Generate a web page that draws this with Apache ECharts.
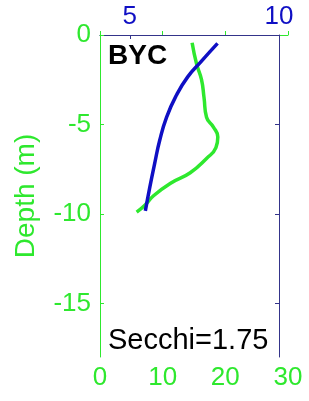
<!DOCTYPE html>
<html>
<head>
<meta charset="utf-8">
<script src="https://cdn.jsdelivr.net/npm/echarts@6/dist/echarts.min.js"></script>
<style>
  html, body { margin: 0; padding: 0; background: #fff; }
  #chart { width: 309px; height: 401px; }
</style>
</head>
<body>
<div id="chart"></div>
<script>
// green profile (bottom axis, 0-30)
const greenDepth = [-0.43, -1.6, -2.5, -3.5, -4.6, -5.15, -5.7, -6.3, -6.9, -7.7, -8.3, -9.0, -9.5, -9.9];
const greenVal = [14.7, 15.4, 16.2, 16.6, 17.0, 18.1, 18.8, 18.5, 17.0, 14.4, 11.2, 8.5, 7.2, 5.85];
// blue profile (top axis, 4-10)
const blueDepth = [-0.47, -1.5, -2.34, -3.37, -4.6, -5.9, -7.2, -8.5, -9.83];
const blueVal = [7.94, 7.38, 6.94, 6.56, 6.23, 6.0, 5.83, 5.67, 5.52];
const depthTicks = [0, -5, -10, -15];
const topTicks = [5, 10];

const GREEN = '#2ee82e';
const BLUE = '#0f0fc4';
const BOX = '#34348a';
const font = 'Liberation Sans, Arial, sans-serif';

const myChart = echarts.init(document.getElementById('chart'));
myChart.setOption({
    animation: false,
    title: [
        {text: 'BYC', left: 103, top: 37, textStyle: {fontSize: 28, fontWeight: 'bold', color: '#000', fontFamily: font}},
        {text: 'Secchi=1.75', left: 103, top: 321, textStyle: {fontSize: 29, fontWeight: 'normal', color: '#000', fontFamily: font}}
    ],
    grid: [
        {left: 100, top: 35, width: 188, height: 322},
        {left: 100, top: 35, width: 179, height: 322}
    ],
    xAxis: [
        {
            gridIndex: 0, type: 'value', position: 'bottom', min: 0, max: 30, interval: 10,
            axisLine: {lineStyle: {color: GREEN, width: 1}},
            axisTick: {inside: true, length: 4, lineStyle: {color: GREEN}},
            axisLabel: {color: GREEN, fontSize: 26, fontFamily: font, margin: 8},
            splitLine: {show: false}
        },
        {
            gridIndex: 1, type: 'value', position: 'top', min: 4, max: 10,
            axisLine: {lineStyle: {color: BOX, width: 1}},
            axisTick: {inside: true, length: 4, customValues: topTicks, lineStyle: {color: BOX}},
            axisLabel: {color: BLUE, fontSize: 26, fontFamily: font, margin: 5, customValues: topTicks},
            splitLine: {show: false}
        }
    ],
    yAxis: [
        {
            gridIndex: 0, type: 'value', position: 'left', min: -18, max: 0,
            name: 'Depth (m)', nameLocation: 'middle', nameGap: 60, nameRotate: 90,
            nameTextStyle: {color: GREEN, fontSize: 28, fontFamily: font},
            axisLine: {show: true, lineStyle: {color: GREEN, width: 1}},
            axisTick: {inside: true, length: 4, customValues: depthTicks, lineStyle: {color: GREEN}},
            axisLabel: {color: GREEN, fontSize: 26, fontFamily: font, margin: 9, customValues: depthTicks},
            splitLine: {show: false}
        },
        {
            gridIndex: 1, type: 'value', position: 'right', min: -18, max: 0,
            axisLine: {show: true, lineStyle: {color: BOX, width: 1}},
            axisTick: {inside: true, length: 4, customValues: depthTicks, lineStyle: {color: BOX}},
            axisLabel: {show: false},
            splitLine: {show: false}
        }
    ],
    series: [
        {
            type: 'line', xAxisIndex: 0, yAxisIndex: 0, smooth: true, symbol: 'none',
            lineStyle: {color: GREEN, width: 3.5},
            data: greenVal.map((v, i) => [v, greenDepth[i]])
        },
        {
            type: 'line', xAxisIndex: 1, yAxisIndex: 1, smooth: true, symbol: 'none',
            lineStyle: {color: BLUE, width: 3.5},
            data: blueVal.map((v, i) => [v, blueDepth[i]])
        }
    ]
});
</script>
</body>
</html>
